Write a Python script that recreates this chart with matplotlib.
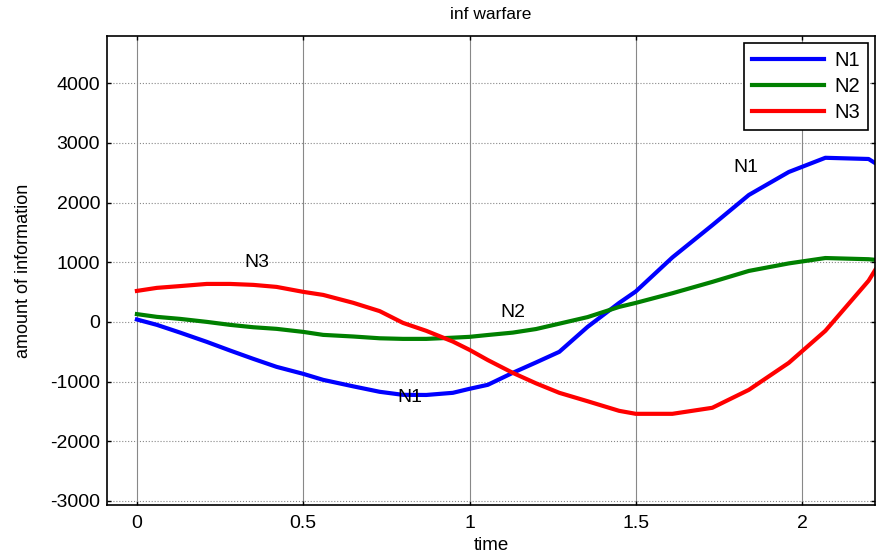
import matplotlib
matplotlib.use('Agg')
import matplotlib.pyplot as plt

plt.rcParams['font.family'] = ['Liberation Sans', 'DejaVu Sans']
plt.rcParams['axes.unicode_minus'] = False

# time samples
t = [0, 0.06, 0.13, 0.21, 0.28, 0.35, 0.42, 0.5, 0.56, 0.65, 0.73, 0.8, 0.87, 0.95,
     1.0, 1.055, 1.13, 1.2, 1.27, 1.355, 1.45, 1.5, 1.61, 1.73, 1.84, 1.96, 2.07, 2.2, 2.22]

n1 = [40, -50, -180, -335, -480, -620, -754, -871, -972, -1080, -1172, -1223, -1225, -1189,
      -1122, -1055, -854, -680, -502, -84, 318, 510, 1080, 1620, 2127, 2512, 2750, 2730, 2660]
n2 = [130, 84, 50, 0, -50, -90, -117, -168, -218, -245, -275, -285, -285, -265,
      -251, -220, -180, -120, -30, 80, 251, 318, 480, 670, 854, 980, 1070, 1050, 1040]
n3 = [519, 570, 600, 636, 636, 620, 586, 503, 452, 320, 180, -17, -150, -330,
      -469, -640, -854, -1030, -1189, -1330, -1491, -1541, -1541, -1440, -1139, -687, -150, 690, 871]

labels = ['N1', 'N2', 'N3']
colors = ['#0000ff', '#008000', '#ff0000']

# curve labels placed on the plot
notes = [('N3', 0.36, 990), ('N2', 1.13, 150), ('N1', 0.82, -1270), ('N1', 1.83, 2580)]

fig = plt.figure(figsize=(8.77, 5.55), dpi=100)
ax = fig.add_axes([0.122, 0.090, 0.876, 0.845])

for y, lab, c in zip([n1, n2, n3], labels, colors):
    ax.plot(t, y, color=c, lw=3, label=lab)

for txt, x, y in notes:
    ax.text(x, y, txt, fontsize=14, ha='center', va='center')

ax.set_xlim(-0.09, 2.22)
ax.set_ylim(-3070, 4790)
ax.set_xticks([0, 0.5, 1, 1.5, 2])
ax.set_xticklabels(['0', '0.5', '1', '1.5', '2'])
ax.set_yticks(range(-3000, 4001, 1000))

ax.xaxis.grid(True, color='#888888', lw=0.8, ls='-')
ax.yaxis.grid(True, color='#888888', lw=0.8, ls=':')

ax.tick_params(direction='in', top=True, right=True, length=3, labelsize=14, width=1)
ax.tick_params(axis='x', pad=7)
ax.tick_params(axis='y', pad=5)
for s in ax.spines.values():
    s.set_linewidth(1.2)

ax.set_title('inf warfare', fontsize=12.5, pad=12)
ax.set_xlabel('time', fontsize=13.5, labelpad=4)
ax.set_ylabel('amount of information', fontsize=13, labelpad=13)

leg = ax.legend(loc='upper right', fontsize=14.5, handlelength=3.6, handletextpad=0.5,
                fancybox=False, edgecolor='black', framealpha=1, borderaxespad=0.35,
                labelspacing=0.35, borderpad=0.4)
leg.get_frame().set_linewidth(1.2)

plt.savefig('out.png', dpi=100)
